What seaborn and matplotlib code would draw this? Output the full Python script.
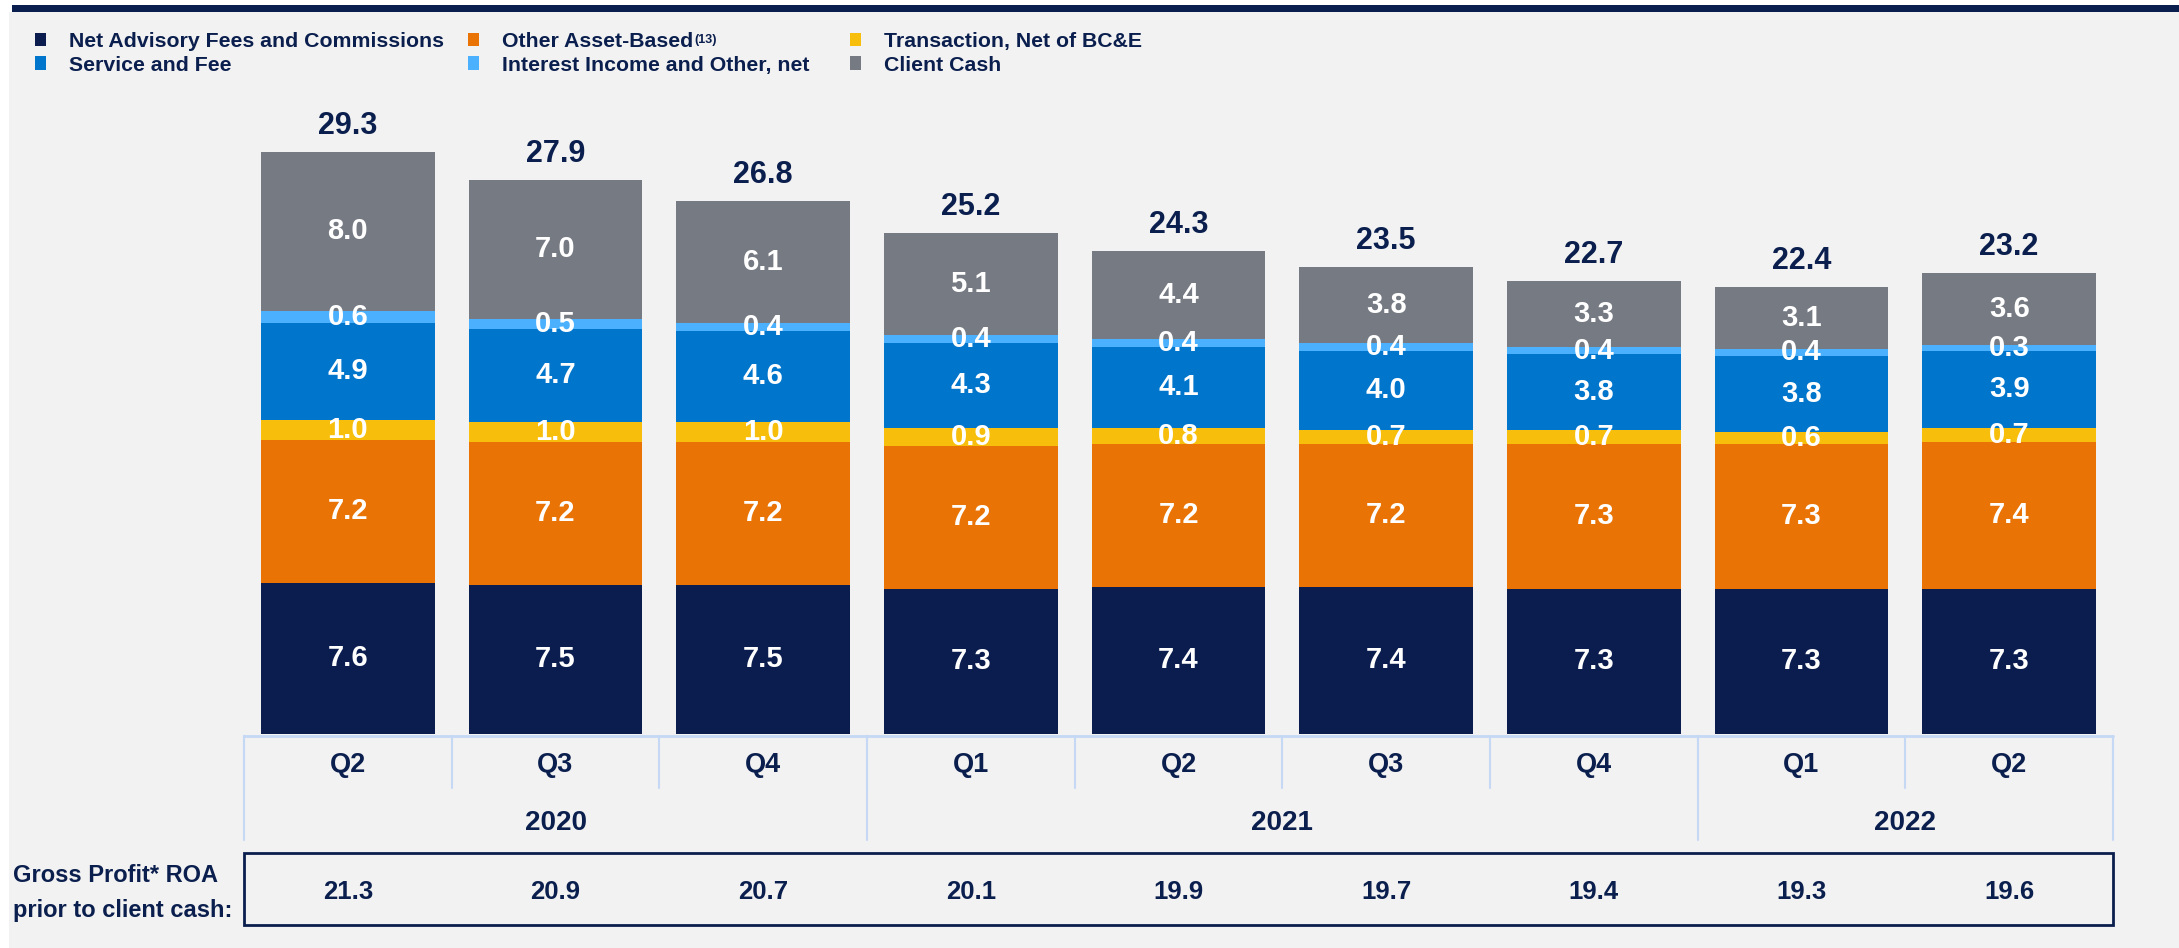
import pandas as pd
import matplotlib
matplotlib.use("Agg")
import matplotlib.pyplot as plt
import seaborn as sns
from matplotlib.patches import Rectangle, Patch

# Chart data
periods = ["Q2 2020", "Q3 2020", "Q4 2020", "Q1 2021", "Q2 2021",
           "Q3 2021", "Q4 2021", "Q1 2022", "Q2 2022"]
quarters = ["Q2", "Q3", "Q4", "Q1", "Q2", "Q3", "Q4", "Q1", "Q2"]
years = ["2020", "2021", "2022"]
year_spans = [(0, 2), (3, 6), (7, 8)]

net_advisory = [7.6, 7.5, 7.5, 7.3, 7.4, 7.4, 7.3, 7.3, 7.3]
other_asset = [7.2, 7.2, 7.2, 7.2, 7.2, 7.2, 7.3, 7.3, 7.4]
transaction = [1.0, 1.0, 1.0, 0.9, 0.8, 0.7, 0.7, 0.6, 0.7]
service_fee = [4.9, 4.7, 4.6, 4.3, 4.1, 4.0, 3.8, 3.8, 3.9]
interest = [0.6, 0.5, 0.4, 0.4, 0.4, 0.4, 0.4, 0.4, 0.3]
client_cash = [8.0, 7.0, 6.1, 5.1, 4.4, 3.8, 3.3, 3.1, 3.6]
totals = [29.3, 27.9, 26.8, 25.2, 24.3, 23.5, 22.7, 22.4, 23.2]
roa_prior_cash = [21.3, 20.9, 20.7, 20.1, 19.9, 19.7, 19.4, 19.3, 19.6]

series = [
    ("Net Advisory Fees and Commissions", net_advisory, "#0B1D4E"),
    ("Other Asset-Based", other_asset, "#E97405"),
    ("Transaction, Net of BC&E", transaction, "#F7BF0B"),
    ("Service and Fee", service_fee, "#0075CC"),
    ("Interest Income and Other, net", interest, "#4BB1FF"),
    ("Client Cash", client_cash, "#767A83"),
]

NAVY = "#0B1F4E"
BG = "#F2F2F2"
GRID = "#C5D9F5"

sns.set_style("white")
plt.rcParams["font.family"] = ["Liberation Sans", "DejaVu Sans"]
plt.rcParams["font.weight"] = "bold"

W, H = 2179, 948
fig = plt.figure(figsize=(W / 100, H / 100), dpi=100, facecolor="white")

# background panel and top rule
fig.patches.append(Rectangle((9 / W, 0), 1, (H - 12) / H, transform=fig.transFigure,
                             facecolor=BG, edgecolor="none", zorder=-10))
fig.patches.append(Rectangle((12 / W, 1 - 12 / H), 1, 7 / H, transform=fig.transFigure,
                             facecolor=NAVY, edgecolor="none", zorder=-9))

# main bar axes
left, right, base, top = 244, 2113, 734, 90
ax = fig.add_axes([left / W, (H - base) / H, (right - left) / W, (base - top) / H])
ax.patch.set_visible(False)

df = pd.DataFrame({"period": periods})
cum = [0.0] * len(periods)
cums = []
for name, vals, color in series:
    cum = [c + v for c, v in zip(cum, vals)]
    cums.append(list(cum))

# draw cumulative bars from the tallest down so each layer shows its segment
for (name, vals, color), c in reversed(list(zip(series, cums))):
    df["h"] = c
    sns.barplot(data=df, x="period", y="h", order=periods, color=color,
                saturation=1, width=0.836, errorbar=None, linewidth=0, ax=ax)

for (name, vals, color), c in zip(series, cums):
    for i, (v, cc) in enumerate(zip(vals, c)):
        ax.text(i, cc - v / 2, f"{v:.1f}", ha="center", va="center",
                color="white", fontsize=21, fontweight="bold")

for i, t in enumerate(totals):
    ax.annotate(f"{t:.1f}", (i, cums[-1][i]), xytext=(0, 13), textcoords="offset points",
                ha="center", va="baseline", color=NAVY, fontsize=22, fontweight="bold")

ax.set_xlim(-0.5, 8.5)
ax.set_ylim(0, (base - top) / 19.87)
ax.set_axis_off()

# category table below bars (y in pixels measured down from the bar baseline)
tab = fig.add_axes([left / W, 0, (right - left) / W, (H - base) / H])
tab.set_xlim(-0.5, 8.5)
tab.set_ylim(H - base, 0)
tab.set_axis_off()
tab.patch.set_visible(False)

tab.plot([-0.5, 8.5], [2, 2], color=GRID, lw=2, clip_on=False)
for k in range(10):
    tab.plot([k - 0.5, k - 0.5], [2, 54], color=GRID, lw=1.5, clip_on=False)
for a, b in year_spans:
    tab.plot([a - 0.5, a - 0.5], [2, 106], color=GRID, lw=1.5, clip_on=False)
tab.plot([8.5, 8.5], [2, 106], color=GRID, lw=1.5, clip_on=False)

for i, q in enumerate(quarters):
    tab.text(i, 31, q, ha="center", va="center", color=NAVY, fontsize=19.5, fontweight="bold")
for yr, (a, b) in zip(years, year_spans):
    tab.text((a + b) / 2, 89, yr, ha="center", va="center", color=NAVY, fontsize=20, fontweight="bold")

tab.add_patch(Rectangle((-0.5, 119), 9, 72, facecolor="none", edgecolor=NAVY, lw=2, clip_on=False))
for i, v in enumerate(roa_prior_cash):
    tab.text(i, 158, f"{v:.1f}", ha="center", va="center", color=NAVY, fontsize=18.5, fontweight="bold")

fig.text(13 / W, 1 - 893 / H, "Gross Profit* ROA\nprior to client cash:", ha="left", va="center",
         color=NAVY, fontsize=17, fontweight="bold", linespacing=1.65)

# legend, three columns anchored individually
handles = [Patch(facecolor=c, edgecolor="none") for _, _, c in series]
labels = [n for n, _, _ in series]
col_x = [35, 468, 850]
legends = []
for j in range(3):
    leg = fig.legend([handles[j], handles[j + 3]], [labels[j], labels[j + 3]],
                     loc="upper left", bbox_to_anchor=(col_x[j] / W, 1 - 32 / H),
                     frameon=False, borderpad=0, borderaxespad=0, fontsize=15.3,
                     handlelength=0.5, handleheight=0.6, handletextpad=1.1,
                     labelspacing=0.22)
    for t in leg.get_texts():
        t.set_color(NAVY)
        t.set_fontweight("bold")
    legends.append(leg)

# footnote marker after "Other Asset-Based"
fig.canvas.draw()
bb = legends[1].get_texts()[0].get_window_extent()
fig.text(bb.x1 / W + 1 / W, bb.y1 / H - 2 / H, "(13)", ha="left", va="top",
         color=NAVY, fontsize=9, fontweight="bold")

fig.savefig("out.png", dpi=100, facecolor=fig.get_facecolor())
